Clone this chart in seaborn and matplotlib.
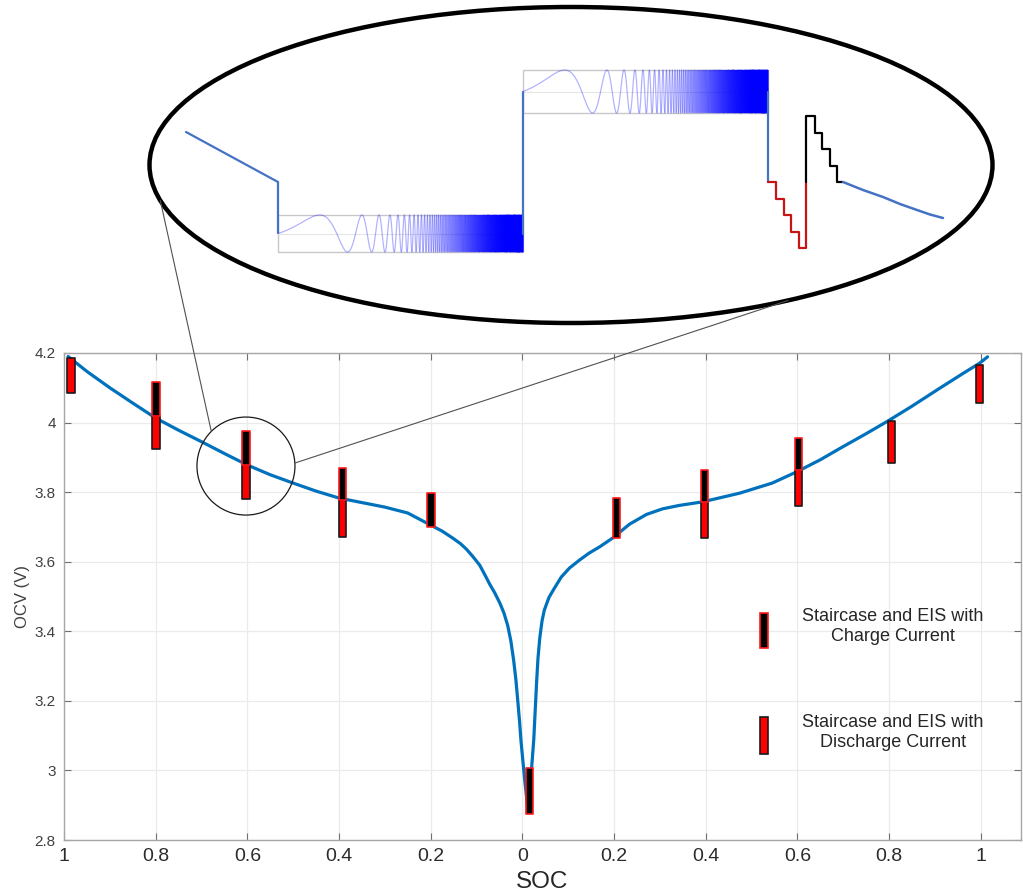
import numpy as np
import pandas as pd
import matplotlib
matplotlib.use("Agg")
import matplotlib.pyplot as plt
import seaborn as sns
from matplotlib.patches import Ellipse, Circle, Rectangle
from matplotlib.collections import LineCollection

# ------------------------------------------------------------------ data
# signed SOC axis position: left half = discharge (SOC 1 -> 0), right half = charge (SOC 0 -> 1)
curve_pos = [-0.991, -0.95, -0.9, -0.85, -0.8, -0.75, -0.7, -0.65, -0.6, -0.55, -0.5,
             -0.45, -0.4, -0.35, -0.3, -0.25, -0.204, -0.175, -0.152, -0.135, -0.122,
             -0.108, -0.093, -0.082, -0.071, -0.06, -0.049, -0.04, -0.032, -0.025,
             -0.019, -0.014, -0.010, -0.006, -0.003, 0.001, 0.005, 0.009, 0.013,
             0.017, 0.021, 0.025, 0.028, 0.031, 0.034, 0.038, 0.043, 0.048, 0.058,
             0.070, 0.085, 0.103, 0.125, 0.146, 0.169, 0.197, 0.234, 0.271, 0.306,
             0.343, 0.393, 0.474, 0.545, 0.598, 0.65, 0.692, 0.75, 0.797, 0.85,
             0.911, 0.96, 0.998, 1.015]
curve_ocv = [4.190, 4.147, 4.100, 4.056, 4.013, 3.978, 3.945, 3.911, 3.878, 3.850, 3.826,
             3.803, 3.783, 3.770, 3.757, 3.740, 3.708, 3.688, 3.668, 3.652, 3.636,
             3.615, 3.590, 3.563, 3.535, 3.510, 3.481, 3.452, 3.417, 3.372,
             3.317, 3.260, 3.201, 3.140, 3.086, 3.030, 2.975, 2.925, 2.885,
             2.950, 3.020, 3.090, 3.170, 3.250, 3.320, 3.380, 3.430, 3.461, 3.497,
             3.524, 3.556, 3.582, 3.605, 3.625, 3.643, 3.668, 3.708, 3.736, 3.752,
             3.762, 3.772, 3.797, 3.826, 3.858, 3.893, 3.925, 3.968, 4.004, 4.047,
             4.099, 4.140, 4.171, 4.189]

marker_pos = [-0.985, -0.799, -0.603, -0.393, -0.199, 0.015, 0.205, 0.397, 0.603, 0.806, 0.998]
charge_low = [np.nan, 4.020, 3.878, 3.777, 3.700, 2.876, 3.668, 3.771, 3.863, np.nan, np.nan]
charge_high = [np.nan, 4.117, 3.976, 3.869, 3.797, 3.006, 3.783, 3.863, 3.955, np.nan, np.nan]
discharge_low = [4.085, 3.924, 3.780, 3.670, np.nan, np.nan, np.nan, 3.668, 3.760, 3.883, 4.056]
discharge_high = [4.185, 4.020, 3.878, 3.777, np.nan, np.nan, np.nan, 3.771, 3.863, 4.004, 4.165]

xtick_pos = [-1.0, -0.8, -0.6, -0.4, -0.2, 0.0, 0.2, 0.4, 0.6, 0.8, 1.0]
xtick_labels = ["1", "0.8", "0.6", "0.4", "0.2", "0", "0.2", "0.4", "0.6", "0.8", "1"]
ytick_vals = [2.8, 3.0, 3.2, 3.4, 3.6, 3.8, 4.0, 4.2]
ytick_labels = ["2.8", "3", "3.2", "3.4", "3.6", "3.8", "4", "4.2"]

legend_labels = ["Staircase and EIS with\nCharge Current",
                 "Staircase and EIS with\nDischarge Current"]

zoom_pos, zoom_ocv = -0.603, 3.875

# schematic of the zoomed test sequence (inset, drawn in figure-pixel units)
inset_lead_t = [186, 278, 278]
inset_lead_v = [132, 182, 233]
chirp1_box = (278, 523, 233.5, 18.5)   # t0, t1, centre, half height
chirp2_box = (523, 768, 91.5, 21.5)
inset_jump_t = [523, 523]
inset_jump_v = [233.5, 91.5]
inset_drop_t = [768, 768]
inset_drop_v = [91.5, 182]
stair_dis_t = [768, 776, 776, 783.5, 783.5, 791, 791, 798.5, 798.5, 806, 806]
stair_dis_v = [182, 182, 198.5, 198.5, 215, 215, 231.5, 231.5, 248, 248, 182]
stair_chg_t = [806, 806, 814.5, 814.5, 822, 822, 829.5, 829.5, 837, 837, 843]
stair_chg_v = [182, 116, 116, 132.5, 132.5, 149, 149, 165.5, 165.5, 182, 182]
inset_tail_t = [843, 863, 883, 900, 917, 930, 943]
inset_tail_v = [182, 190, 197, 204, 210, 214.5, 218]

# ------------------------------------------------------------------ style
sns.set_theme(style="whitegrid", rc={
    "grid.color": "#ebebeb", "grid.linewidth": 0.9,
    "axes.edgecolor": "#a6a6a6", "axes.linewidth": 1.0,
    "xtick.color": "#707070", "ytick.color": "#707070",
    "xtick.labelcolor": "#2b2b2b", "ytick.labelcolor": "#404040",
})
plt.rcParams["font.family"] = ["Liberation Sans", "DejaVu Sans"]

W, H = 1023, 894
fig = plt.figure(figsize=(W / 100, H / 100), dpi=100)
fig.patch.set_facecolor("white")
ax = fig.add_axes([64 / W, (H - 840) / H, 957 / W, 487 / H])

df = pd.DataFrame({"pos": curve_pos, "ocv": curve_ocv})
sns.lineplot(data=df, x="pos", y="ocv", sort=False, ax=ax, color="#0072BD",
             linewidth=2.3, zorder=2)

pos = np.array(marker_pos)
cl, ch = np.array(charge_low), np.array(charge_high)
dl, dh = np.array(discharge_low), np.array(discharge_high)
m = ~np.isnan(dl)
ax.bar(pos[m], dh[m] - dl[m], bottom=dl[m], width=0.016, color="#ff0000",
       edgecolor="#1a1a1a", linewidth=1.2, zorder=3, joinstyle="round")
m = ~np.isnan(cl)
ax.bar(pos[m], ch[m] - cl[m], bottom=cl[m], width=0.016, color="black",
       edgecolor="#ff1a1a", linewidth=1.2, zorder=3, joinstyle="round")

ax.set_xlim(-1.0, 1.088)
ax.set_ylim(2.8, 4.2)
ax.set_xticks(xtick_pos)
ax.set_xticklabels(xtick_labels, fontsize=14)
ax.set_yticks(ytick_vals)
ax.set_yticklabels(ytick_labels, fontsize=11)
ax.tick_params(axis="both", direction="in", length=5, width=0.8,
               top=True, right=True, bottom=True, left=True)
ax.tick_params(axis="x", pad=6)
ax.tick_params(axis="y", pad=6)
ax.set_xlabel("SOC", fontsize=17.5, color="#262626", labelpad=4)
ax.set_ylabel("OCV (V)", fontsize=12, color="#404040", labelpad=3)
for s in ax.spines.values():
    s.set_visible(True)
    s.set_color("#a6a6a6")

# legend (manual, matching layout)
ax.add_patch(Rectangle((0.7275, 0.394), 0.0084, 0.072, transform=ax.transAxes,
                       facecolor="black", edgecolor="#ff1a1a", lw=1.2, zorder=4))
ax.add_patch(Rectangle((0.7275, 0.1766), 0.0084, 0.076, transform=ax.transAxes,
                       facecolor="#ff0000", edgecolor="#1a1a1a", lw=1.2, zorder=4))
ax.text(0.866, 0.438, legend_labels[0], transform=ax.transAxes, ha="center",
        va="center", fontsize=13, linespacing=1.25, color="#262626")
ax.text(0.866, 0.2207, legend_labels[1], transform=ax.transAxes, ha="center",
        va="center", fontsize=13, linespacing=1.25, color="#262626")

# ------------------------------------------------------------------ overlay (zoom)
ov = fig.add_axes([0, 0, 1, 1], zorder=5)
ov.set_xlim(0, W)
ov.set_ylim(H, 0)
ov.axis("off")
ov.set_facecolor("none")

cx_disp, cy_disp = ax.transData.transform((zoom_pos, zoom_ocv))
cx, cy = cx_disp, H - cy_disp
r = 49
ov.add_patch(Circle((cx, cy), r, fill=False, edgecolor="#1a1a1a", lw=0.9))

ecx, ecy, ea, eb = 571, 165, 421.5, 158
ov.add_patch(Ellipse((ecx, ecy), 2 * ea, 2 * eb, fill=False, edgecolor="black", lw=3.2))

for ang_c, ang_e in [(225, 167), (-3.5, 59)]:
    p0 = (cx + r * np.cos(np.radians(ang_c)), cy + r * np.sin(np.radians(ang_c)))
    p1 = (ecx + ea * np.cos(np.radians(ang_e)), ecy + eb * np.sin(np.radians(ang_e)))
    ov.plot([p0[0], p1[0]], [p0[1], p1[1]], color="#505050", lw=0.8)

lead_c = "#4472C4"
ov.plot(inset_lead_t, inset_lead_v, color=lead_c, lw=1.6, solid_joinstyle="miter")

def chirp(box):
    t0, t1, c, h = box
    ov.add_patch(Rectangle((t0, c - h), t1 - t0, 2 * h, fill=False,
                           edgecolor="#c8c8c8", lw=1.0))
    ov.plot([t0, t1], [c, c], color="#e6e6e6", lw=0.8)
    u = np.linspace(0, 1, 80000)
    lnk, f0 = 8.0, 0.69
    ph = 2 * np.pi * f0 / lnk * (np.exp(lnk * u) - 1)
    t = t0 + u * (t1 - t0)
    v = c - h * np.sin(ph)
    # split the sweep into half-cycles (peak to peak) so that overlapping
    # half-cycles accumulate colour while each stroke stays clean
    k = np.floor((ph - np.pi / 2) / np.pi).astype(int)
    cuts = np.where(np.diff(k) != 0)[0] + 1
    pieces = []
    start = 0
    for cidx in list(cuts) + [len(t)]:
        seg = np.column_stack([t[start:cidx + 1], v[start:cidx + 1]])
        if len(seg) > 1:
            pieces.append(seg)
        start = cidx
    ov.add_collection(LineCollection(pieces, colors="#0000ff", linewidths=0.9,
                                     alpha=0.3))

chirp(chirp1_box)
chirp(chirp2_box)
ov.plot(inset_jump_t, inset_jump_v, color=lead_c, lw=1.6)
ov.plot(inset_drop_t, inset_drop_v, color=lead_c, lw=1.6)
ov.plot(stair_dis_t, stair_dis_v, color="#c81414", lw=1.6)
ov.plot(stair_chg_t, stair_chg_v, color="black", lw=1.6)
ov.plot(inset_tail_t, inset_tail_v, color=lead_c, lw=1.8)

fig.savefig("out.png", dpi=100)
